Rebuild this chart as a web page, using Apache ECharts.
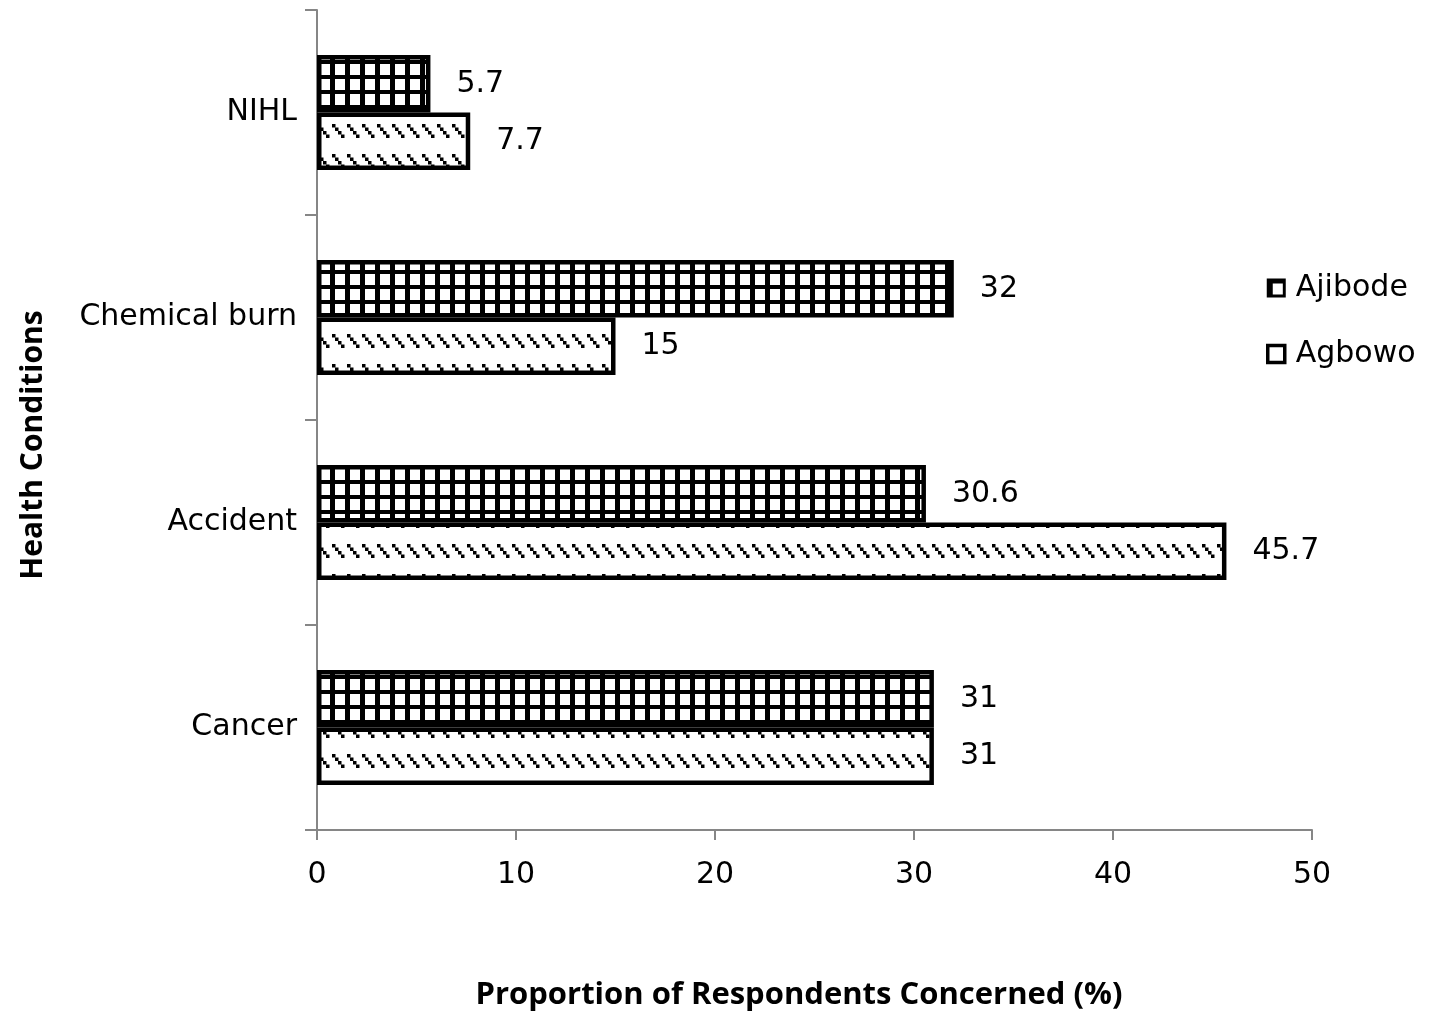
<!DOCTYPE html>
<html>
<head>
<meta charset="utf-8">
<script src="https://cdn.jsdelivr.net/npm/echarts@6/dist/echarts.min.js"></script>
<style>
html,body{margin:0;padding:0;background:#fff;}
#chart{width:1429px;height:1012px;}
</style>
</head>
<body>
<div id="chart"></div>
<script>
const categories = ['Cancer', 'Accident', 'Chemical burn', 'NIHL'];
const seriesNames = ['Ajibode', 'Agbowo'];
const ajibode = [31, 30.6, 32, 5.7];
const agbowo = [31, 45.7, 15, 7.7];
const xTicks = [0, 10, 20, 30, 40, 50];

function gridPattern() {
  const c = document.createElement('canvas');
  c.width = 15; c.height = 15;
  const g = c.getContext('2d');
  g.fillStyle = '#fff'; g.fillRect(0, 0, 15, 15);
  g.fillStyle = '#000';
  g.fillRect(0, 0, 5, 15);
  g.fillRect(0, 0, 15, 4);
  return c;
}
function dashPattern() {
  const c = document.createElement('canvas');
  c.width = 15; c.height = 30;
  const g = c.getContext('2d');
  g.fillStyle = '#fff'; g.fillRect(0, 0, 15, 30);
  g.fillStyle = '#000';
  for (let i = 0; i < 4; i++) {
    g.fillRect(2 + i * 3, 4 + i * 3.5, 3.5, 3.5);
  }
  return c;
}

const font = '"DejaVu Sans"';
const boldFont = '"Open Sans"';
const chart = echarts.init(document.getElementById('chart'), null, {renderer: 'canvas'});
chart.setOption({
  animation: false,
  backgroundColor: '#fff',
  textStyle: {fontFamily: font},
  grid: {left: 317, right: 117, top: 10, bottom: 182, containLabel: false},
  legend: {
    data: [
      {name: 'Ajibode', icon: 'rect'},
      {name: 'Agbowo', icon: 'rect', itemStyle: {color: '#fff', borderColor: '#000', borderWidth: 3.5}}
    ],
    orient: 'vertical',
    left: 1261,
    top: 268,
    itemWidth: 17,
    itemHeight: 17,
    itemGap: 36,
    textStyle: {fontSize: 30, color: '#000', fontFamily: font, padding: [0, 0, 0, 6]}
  },
  xAxis: {
    type: 'value',
    min: xTicks[0],
    max: xTicks[xTicks.length - 1],
    interval: 10,
    splitLine: {show: false},
    axisLine: {show: true, lineStyle: {color: '#868686', width: 2}},
    axisTick: {show: true, length: 10, lineStyle: {color: '#868686', width: 2}},
    axisLabel: {fontSize: 30, color: '#000', margin: 30, fontFamily: font}
  },
  yAxis: {
    type: 'category',
    data: categories,
    axisLine: {show: true, lineStyle: {color: '#868686', width: 2}},
    axisTick: {show: true, length: 12, interval: 0, lineStyle: {color: '#868686', width: 2}},
    axisLabel: {fontSize: 30, color: '#000', margin: 20, fontFamily: font}
  },
  graphic: [
    {type: 'text', x: 799, y: 995, style: {text: 'Proportion of Respondents Concerned (%)', font: 'bold 31px ' + boldFont, fill: '#000', align: 'center', verticalAlign: 'middle'}},
    {type: 'text', x: 33, y: 445, rotation: Math.PI / 2, style: {text: 'Health Conditions', font: 'bold 30px ' + boldFont, fill: '#000', align: 'center', verticalAlign: 'middle'}}
  ],
  series: [
    {
      name: 'Ajibode', type: 'bar', data: ajibode,
      barCategoryGap: '44%', barGap: '0%',
      itemStyle: {color: {image: gridPattern(), repeat: 'repeat'}, borderColor: '#000', borderWidth: 4.5},
      label: {show: true, position: 'right', distance: 26, fontSize: 30, color: '#000', fontFamily: font}
    },
    {
      name: 'Agbowo', type: 'bar', data: agbowo,
      barCategoryGap: '44%', barGap: '0%',
      itemStyle: {color: {image: dashPattern(), repeat: 'repeat'}, borderColor: '#000', borderWidth: 4.5},
      label: {show: true, position: 'right', distance: 26, fontSize: 30, color: '#000', fontFamily: font}
    }
  ]
});
</script>
</body>
</html>
